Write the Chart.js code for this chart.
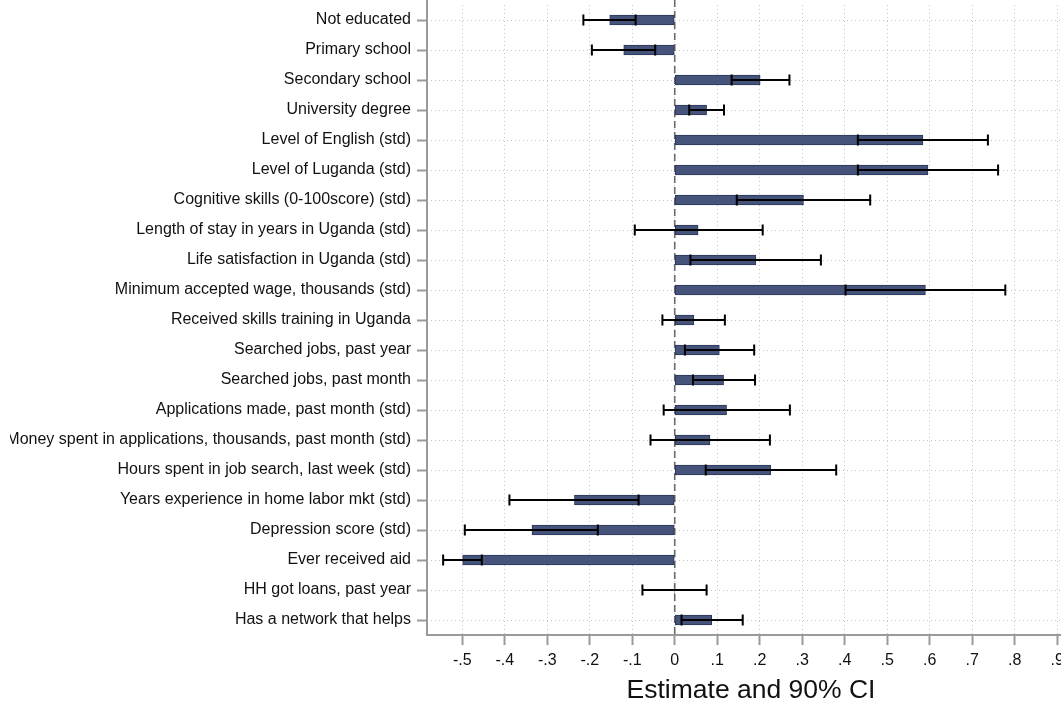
<!DOCTYPE html>
<html><head><meta charset="utf-8">
<script src="https://cdn.jsdelivr.net/npm/chart.js@4.4.1/dist/chart.umd.min.js"></script>
<style>
html,body{margin:0;padding:0;overflow:hidden;background:#fff;width:1061px;height:704px;}
#wrap{position:absolute;left:10px;top:0;width:1070px;height:704px;}
</style></head><body>
<div id="wrap"><canvas id="c" width="1070" height="704"></canvas></div>
<script>
const categories = [
  'Not educated',
  'Primary school',
  'Secondary school',
  'University degree',
  'Level of English (std)',
  'Level of Luganda (std)',
  'Cognitive skills (0-100score) (std)',
  'Length of stay in years in Uganda (std)',
  'Life satisfaction in Uganda (std)',
  'Minimum accepted wage, thousands (std)',
  'Received skills training in Uganda',
  'Searched jobs, past year',
  'Searched jobs, past month',
  'Applications made, past month (std)',
  'Money spent in applications, thousands, past month (std)',
  'Hours spent in job search, last week (std)',
  'Years experience in home labor mkt (std)',
  'Depression score (std)',
  'Ever received aid',
  'HH got loans, past year',
  'Has a network that helps'
];
const estimates = [-0.153, -0.120, 0.201, 0.075, 0.584, 0.596, 0.303, 0.055, 0.191, 0.590, 0.045, 0.105, 0.115, 0.122, 0.083, 0.226, -0.236, -0.336, -0.499, -0.001, 0.087];
const ciLow     = [-0.215, -0.195, 0.134, 0.034, 0.431, 0.431, 0.146, -0.094, 0.037, 0.402, -0.029, 0.024, 0.043, -0.026, -0.057, 0.073, -0.389, -0.494, -0.545, -0.076, 0.016];
const ciHigh    = [-0.092, -0.046, 0.270, 0.116, 0.737, 0.761, 0.460, 0.207, 0.344, 0.778, 0.118, 0.187, 0.189, 0.271, 0.224, 0.380, -0.085, -0.181, -0.454, 0.075, 0.160];
const xTickValues = [-0.5, -0.4, -0.3, -0.2, -0.1, 0, 0.1, 0.2, 0.3, 0.4, 0.5, 0.6, 0.7, 0.8, 0.9];
const xTickLabels = ['-.5', '-.4', '-.3', '-.2', '-.1', '0', '.1', '.2', '.3', '.4', '.5', '.6', '.7', '.8', '.9'];
const xTitle = 'Estimate and 90% CI';

const FONT = '"Liberation Sans", Arial, Helvetica, sans-serif';

const frameAndZero = {
  id: 'frameAndZero',
  beforeDatasetsDraw(chart) {
    const {ctx, chartArea, scales: {x}} = chart;
    const x0 = x.getPixelForValue(0);
    ctx.save();
    ctx.strokeStyle = '#6a6a6a';
    ctx.lineWidth = 1.6;
    ctx.setLineDash([7, 4]);
    ctx.beginPath();
    ctx.moveTo(x0, 0);
    ctx.lineTo(x0, chartArea.bottom);
    ctx.stroke();
    ctx.restore();
  },
  afterDraw(chart) {
    const {ctx, chartArea} = chart;
    ctx.save();
    ctx.strokeStyle = '#9a9a9a';
    ctx.lineWidth = 2;
    ctx.beginPath();
    ctx.moveTo(chartArea.left, 0);
    ctx.lineTo(chartArea.left, chartArea.bottom);
    ctx.lineTo(chart.width, chartArea.bottom);
    ctx.stroke();
    ctx.restore();
  }
};

const errorBars = {
  id: 'errorBars',
  afterDatasetsDraw(chart) {
    const {ctx, scales: {x, y}} = chart;
    ctx.save();
    ctx.strokeStyle = '#000';
    ctx.lineWidth = 2;
    for (let i = 0; i < categories.length; i++) {
      const yp = y.getPixelForValue(i);
      const x1 = x.getPixelForValue(ciLow[i]);
      const x2 = x.getPixelForValue(ciHigh[i]);
      ctx.beginPath();
      ctx.moveTo(x1, yp); ctx.lineTo(x2, yp);
      ctx.moveTo(x1, yp - 5.5); ctx.lineTo(x1, yp + 5.5);
      ctx.moveTo(x2, yp - 5.5); ctx.lineTo(x2, yp + 5.5);
      ctx.stroke();
    }
    ctx.restore();
  }
};

new Chart(document.getElementById('c'), {
  type: 'bar',
  data: {
    labels: categories,
    datasets: [{
      data: estimates,
      backgroundColor: '#46537a',
      borderColor: '#2b3659',
      borderWidth: 1,
      barThickness: 10,
      borderSkipped: false
    }]
  },
  options: {
    indexAxis: 'y',
    responsive: false,
    animation: false,
    devicePixelRatio: 1,
    layout: {padding: {top: 5, right: 5, left: 0, bottom: 0}},
    plugins: {legend: {display: false}, tooltip: {enabled: false}},
    scales: {
      x: {
        type: 'linear',
        min: -0.583,
        max: 0.942,
        afterBuildTicks(scale) { scale.ticks = xTickValues.map(v => ({value: v})); },
        afterFit(scale) { scale.height = 69; scale.paddingLeft = 0; scale.paddingRight = 0; },
        ticks: {
          autoSkip: false,
          maxRotation: 0,
          padding: 6,
          color: '#111',
          font: {family: FONT, size: 16},
          callback: (v, i) => xTickLabels[i]
        },
        grid: {
          color: '#c4c4c4',
          lineWidth: 1,
          drawTicks: true,
          tickLength: 10,
          tickWidth: 2,
          tickColor: '#9a9a9a',
          tickBorderDash: []
        },
        border: {display: false, dash: [1, 3]},
        title: {
          display: true,
          text: xTitle,
          color: '#111',
          padding: {top: 0, bottom: 0},
          font: {family: FONT, size: 26.5, lineHeight: 1}
        }
      },
      y: {
        type: 'category',
        offset: true,
        afterFit(scale) { scale.width = 417; scale.paddingTop = 0; scale.paddingBottom = 0; },
        ticks: {
          autoSkip: false,
          padding: 6,
          color: '#111',
          font: {family: FONT, size: 16}
        },
        grid: {
          offset: false,
          color: '#c4c4c4',
          lineWidth: 1,
          drawTicks: true,
          tickLength: 10,
          tickWidth: 2,
          tickColor: '#9a9a9a',
          tickBorderDash: []
        },
        border: {display: false, dash: [1, 3]}
      }
    }
  },
  plugins: [frameAndZero, errorBars]
});
</script>
</body></html>
